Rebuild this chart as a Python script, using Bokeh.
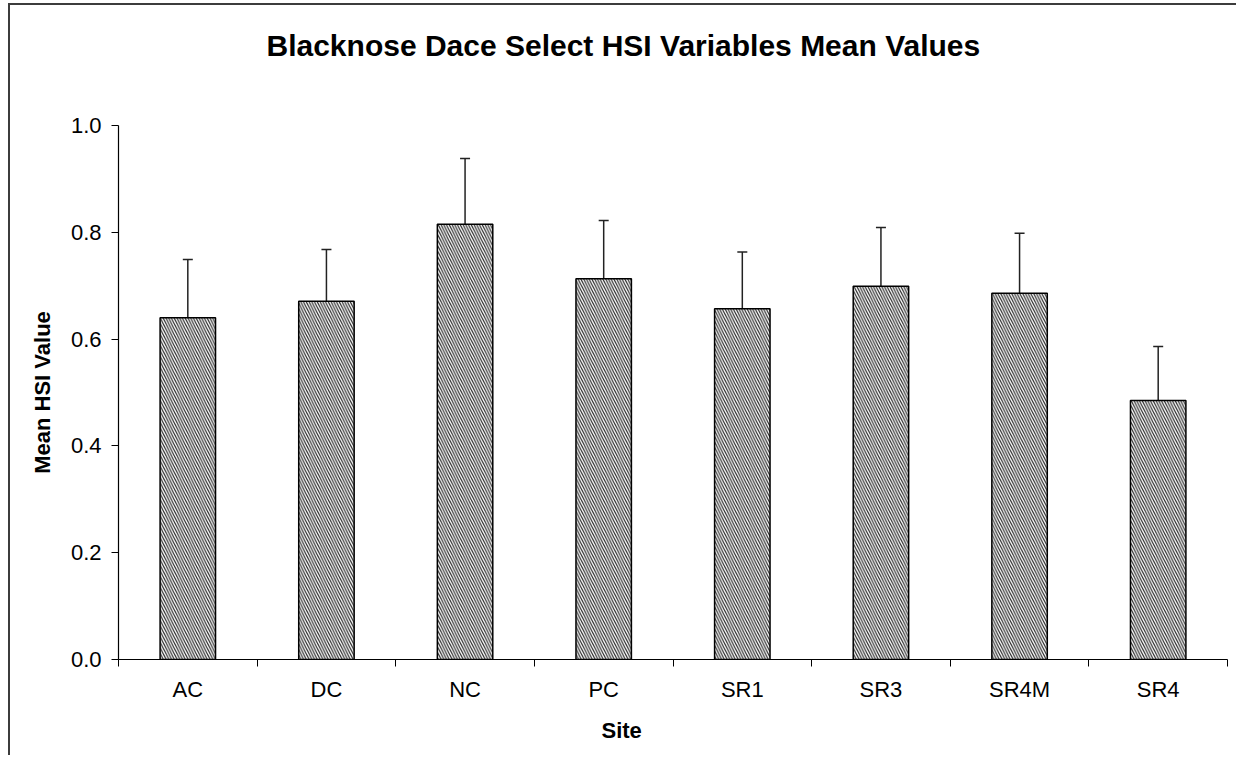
from bokeh.plotting import figure
from bokeh.models import (Range1d, FixedTicker, Whisker, TeeHead, Title,
                          ColumnDataSource, NumeralTickFormatter)
from bokeh.embed import file_html
from bokeh.resources import INLINE

# ---- data ----
sites = ["AC", "DC", "NC", "PC", "SR1", "SR3", "SR4M", "SR4"]
means = [0.640, 0.671, 0.815, 0.713, 0.657, 0.699, 0.686, 0.485]
upper = [0.749, 0.768, 0.938, 0.822, 0.763, 0.809, 0.798, 0.586]
y_ticks = [0.0, 0.2, 0.4, 0.6, 0.8, 1.0]
title_text = "Blacknose Dace Select HSI Variables Mean Values"
x_title = "Site"
y_title = "Mean HSI Value"

FONT = "Liberation Sans"

xs = [i + 0.5 for i in range(len(sites))]
src = ColumnDataSource(dict(x=xs, site=sites, mean=means, upper=upper))

p = figure(width=1228, height=752,
           x_range=Range1d(0, len(sites)), y_range=Range1d(0, 1.0),
           output_backend="svg", toolbar_location=None,
           title_location=None,
           min_border_left=108, min_border_top=120,
           min_border_right=11, min_border_bottom=98)
p.styles = {"border-top": "2px solid #3c3c3c",
            "border-left": "2px solid #3c3c3c",
            "margin-top": "3px",
            "margin-left": "8px"}
p.background_fill_color = "white"
p.border_fill_color = "white"
p.outline_line_color = None
p.xgrid.visible = False
p.ygrid.visible = False

# bars
p.vbar(x="x", top="mean", bottom=0, width=0.40, source=src,
       fill_color="white", line_color="black", line_width=1.5,
       hatch_pattern="\\", hatch_scale=5.5, hatch_color="#2a2a2a",
       hatch_weight=1.2)

# error bars (upper only)
w = Whisker(base="x", lower="mean", upper="upper", source=src,
            dimension="height", line_color="#222222", line_width=1.5,
            upper_head=TeeHead(size=10, line_color="#222222", line_width=1.5),
            lower_head=None)
p.add_layout(w)

# x axis
xa = p.xaxis[0]
xa.ticker = FixedTicker(ticks=xs, minor_ticks=list(range(len(sites) + 1)))
xa.major_label_overrides = {x: s for x, s in zip(xs, sites)}
xa.major_tick_out = 0
xa.major_tick_in = 0
xa.minor_tick_out = 7
xa.minor_tick_in = 0
xa.minor_tick_line_color = "black"
xa.axis_line_color = "black"
xa.axis_line_width = 1.2
xa.major_label_text_font = FONT
xa.major_label_text_font_size = "22px"
xa.major_label_text_color = "black"
xa.major_label_standoff = 10

# y axis
ya = p.yaxis[0]
ya.ticker = FixedTicker(ticks=y_ticks, minor_ticks=[])
ya.formatter = NumeralTickFormatter(format="0.0")
ya.major_tick_out = 7
ya.major_tick_in = 0
ya.minor_tick_out = 0
ya.minor_tick_in = 0
ya.major_tick_line_color = "black"
ya.axis_line_color = "black"
ya.axis_line_width = 1.2
ya.major_label_text_font = FONT
ya.major_label_text_font_size = "22px"
ya.major_label_text_color = "black"
ya.major_label_standoff = 10
ya.axis_label = y_title
ya.axis_label_text_font = FONT
ya.axis_label_text_font_size = "22px"
ya.axis_label_text_font_style = "bold"
ya.axis_label_text_color = "black"
ya.axis_label_standoff = 13

# spacer between the frame and the title, then the title (centred on whole chart)
spacer = Title(text=" ", text_font_size="10px", standoff=27)
p.add_layout(spacer, "above")
main_title = Title(text=title_text, align="left", offset=148,
                   vertical_align="top", standoff=44, text_font=FONT,
                   text_font_size="30px", text_font_style="bold",
                   text_color="black")
p.add_layout(main_title, "above")

# x-axis title, centred on the whole chart
site_title = Title(text=x_title, align="left", offset=483,
                   vertical_align="top", standoff=26, text_font=FONT,
                   text_font_size="22px", text_font_style="bold",
                   text_color="black")
p.add_layout(site_title, "below")

open("out.html", "w").write(file_html(p, INLINE))
